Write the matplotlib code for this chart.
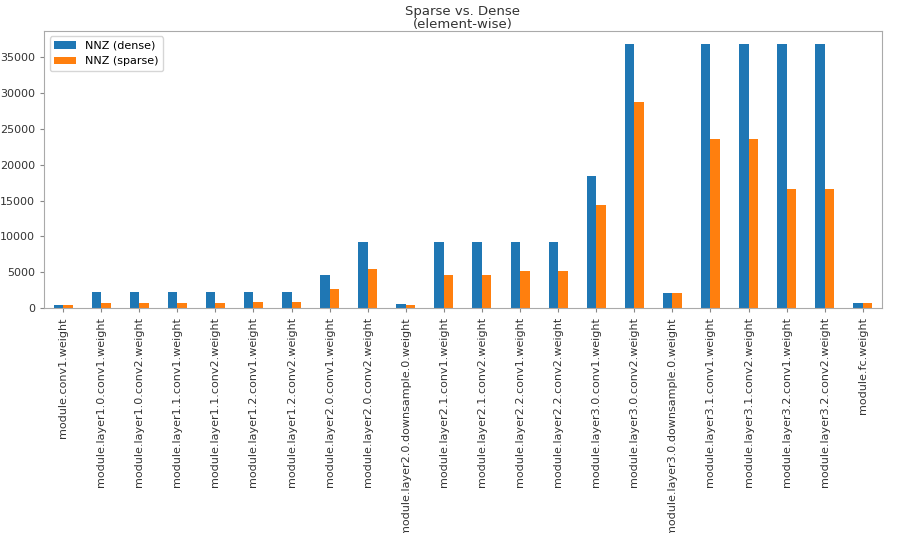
import matplotlib
matplotlib.use("Agg")
import matplotlib.pyplot as plt
import numpy as np

layers = [
    "module.conv1.weight",
    "module.layer1.0.conv1.weight",
    "module.layer1.0.conv2.weight",
    "module.layer1.1.conv1.weight",
    "module.layer1.1.conv2.weight",
    "module.layer1.2.conv1.weight",
    "module.layer1.2.conv2.weight",
    "module.layer2.0.conv1.weight",
    "module.layer2.0.conv2.weight",
    "module.layer2.0.downsample.0.weight",
    "module.layer2.1.conv1.weight",
    "module.layer2.1.conv2.weight",
    "module.layer2.2.conv1.weight",
    "module.layer2.2.conv2.weight",
    "module.layer3.0.conv1.weight",
    "module.layer3.0.conv2.weight",
    "module.layer3.0.downsample.0.weight",
    "module.layer3.1.conv1.weight",
    "module.layer3.1.conv2.weight",
    "module.layer3.2.conv1.weight",
    "module.layer3.2.conv2.weight",
    "module.fc.weight",
]
nnz_dense = [432, 2304, 2304, 2304, 2304, 2304, 2304, 4608, 9216, 512,
             9216, 9216, 9216, 9216, 18432, 36864, 2048, 36864, 36864,
             36864, 36864, 640]
nnz_sparse = [432, 700, 700, 700, 700, 840, 840, 2720, 5420, 490,
              4600, 4600, 5180, 5180, 14380, 28760, 2048, 23550, 23550,
              16650, 16650, 640]

fig = plt.figure(figsize=(8.98, 5.33), dpi=100)
ax = fig.add_axes([0.049, 0.422, 0.933, 0.52])
x = np.arange(len(layers))
w = 0.25
ax.bar(x - w / 2, nnz_dense, w, color="#1f77b4", label="NNZ (dense)")
ax.bar(x + w / 2, nnz_sparse, w, color="#ff7f0e", label="NNZ (sparse)")
ax.set_xticks(x)
ax.set_xticklabels(layers, rotation=90, fontsize=8, color="#333333")
ax.set_xlim(-0.5, len(layers) - 0.5)
ax.set_ylim(0, 38700)
ax.set_yticks(np.arange(0, 35001, 5000))
ax.tick_params(axis="y", labelsize=8, labelcolor="#333333")
ax.tick_params(length=3, color="#888888")
ax.set_title("Sparse vs. Dense\n(element-wise)", fontsize=9.5, pad=2,
             linespacing=0.95, color="#333333")
ax.legend(loc="upper left", fontsize=8)
for s in ax.spines.values():
    s.set_color("#aaaaaa")
fig.savefig("out.png", dpi=100)
